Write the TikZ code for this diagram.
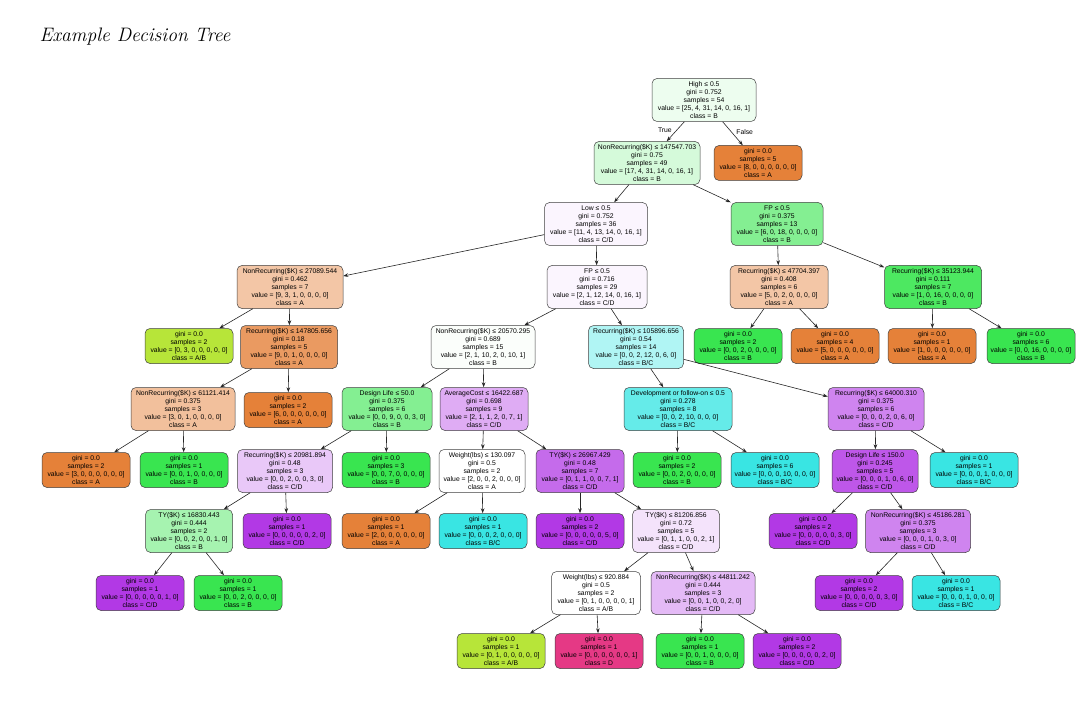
\documentclass[tikz,border=0pt]{standalone}
\usepackage{fontspec}
\usetikzlibrary{arrows.meta}
\newfontfamily\nodefont{Liberation Sans}
\definecolor{cA}{HTML}{E58139}
\definecolor{cAB}{HTML}{B7E539}
\definecolor{cB}{HTML}{39E550}
\definecolor{cBC}{HTML}{39E5E3}
\definecolor{cCD}{HTML}{B239E5}
\definecolor{cD}{HTML}{E53985}
\newcommand\dtnode[5]{#1\\gini = #2\\samples = #3\\value = [#4]\\class = #5}
\newcommand\dtleaf[4]{gini = #1\\samples = #2\\value = [#3]\\class = #4}
\begin{document}
\begin{tikzpicture}[x=1pt,y=-1pt,
  box/.style={draw=black!75, line width=0.5pt, rounded corners=5pt, align=center,
    font=\nodefont\fontsize{6.8}{7.9}\selectfont, inner sep=1pt, text=black},
  inode/.style={box, minimum height=43pt},
  leaf/.style={box, minimum width=88pt, minimum height=35pt},
  edge/.style={draw=black!85, line width=0.6pt, -{Stealth[length=5pt,width=3.6pt]}},
  elab/.style={font=\nodefont\fontsize{6.8}{7.9}\selectfont}]
\useasboundingbox (0,0) rectangle (1092,727);
\node[anchor=west, font=\fontsize{19.5}{22}\selectfont\itshape] (title) at (36,37) {Example Decision Tree};

% level 0-1
\node[inode, minimum width=104pt, fill=cB!9!white] (n0) at (704,100) {\dtnode{High ≤ 0.5}{0.752}{54}{25, 4, 31, 14, 0, 16, 1}{B}};
\node[inode, minimum width=106pt, fill=cB!21!white] (n1) at (647,163) {\dtnode{NonRecurring(\$K) ≤ 147547.703}{0.75}{49}{17, 4, 31, 14, 0, 16, 1}{B}};
\node[leaf, fill=cA] (n2) at (758,163) {\dtleaf{0.0}{5}{8, 0, 0, 0, 0, 0, 0}{A}};
% level 2
\node[inode, minimum width=103pt, fill=cCD!5!white] (n3) at (596,224) {\dtnode{Low ≤ 0.5}{0.752}{36}{11, 4, 13, 14, 0, 16, 1}{C/D}};
\node[inode, minimum width=92pt, fill=cB!62!white] (n4) at (777,224) {\dtnode{FP ≤ 0.5}{0.375}{13}{6, 0, 18, 0, 0, 0, 0}{B}};
% level 3
\node[inode, minimum width=106pt, fill=cA!45!white] (n5) at (290,287) {\dtnode{NonRecurring(\$K) ≤ 27089.544}{0.462}{7}{9, 3, 1, 0, 0, 0, 0}{A}};
\node[inode, minimum width=100pt, fill=cCD!5!white] (n6) at (597,287) {\dtnode{FP ≤ 0.5}{0.716}{29}{2, 1, 12, 14, 0, 16, 1}{C/D}};
\node[inode, minimum width=98pt, fill=cA!45!white] (n7) at (779,287) {\dtnode{Recurring(\$K) ≤ 47704.397}{0.408}{6}{5, 0, 2, 0, 0, 0, 0}{A}};
\node[inode, minimum width=97pt, fill=cB!90!white] (n8) at (933,287) {\dtnode{Recurring(\$K) ≤ 35123.944}{0.111}{7}{1, 0, 16, 0, 0, 0, 0}{B}};
% level 4
\node[leaf, fill=cAB] (n9) at (189,346) {\dtleaf{0.0}{2}{0, 3, 0, 0, 0, 0, 0}{A/B}};
\node[inode, minimum width=97pt, fill=cA!80!white] (n10) at (289,347) {\dtnode{Recurring(\$K) ≤ 147805.656}{0.18}{5}{9, 0, 1, 0, 0, 0, 0}{A}};
\node[inode, minimum width=104pt, fill=cB!2!white] (n15) at (483,347) {\dtnode{NonRecurring(\$K) ≤ 20570.295}{0.689}{15}{2, 1, 10, 2, 0, 10, 1}{B}};
\node[inode, minimum width=95pt, fill=cBC!40!white] (n16) at (636,347) {\dtnode{Recurring(\$K) ≤ 105896.656}{0.54}{14}{0, 0, 2, 12, 0, 6, 0}{B/C}};
\node[leaf, fill=cB] (n11) at (738,346) {\dtleaf{0.0}{2}{0, 0, 2, 0, 0, 0, 0}{B}};
\node[leaf, fill=cA] (n12) at (835,346) {\dtleaf{0.0}{4}{5, 0, 0, 0, 0, 0, 0}{A}};
\node[leaf, fill=cA] (n13) at (932,346) {\dtleaf{0.0}{1}{1, 0, 0, 0, 0, 0, 0}{A}};
\node[leaf, fill=cB] (n14) at (1031,346) {\dtleaf{0.0}{6}{0, 0, 16, 0, 0, 0, 0}{B}};
% level 5
\node[inode, minimum width=104pt, fill=cA!50!white] (n17) at (183,409) {\dtnode{NonRecurring(\$K) ≤ 61121.414}{0.375}{3}{3, 0, 1, 0, 0, 0, 0}{A}};
\node[leaf, fill=cA] (n18) at (288,410) {\dtleaf{0.0}{2}{6, 0, 0, 0, 0, 0, 0}{A}};
\node[inode, minimum width=90pt, fill=cB!62!white] (n19) at (387,409) {\dtnode{Design Life ≤ 50.0}{0.375}{6}{0, 0, 9, 0, 0, 3, 0}{B}};
\node[inode, minimum width=88pt, fill=cCD!42!white] (n20) at (484,409) {\dtnode{AverageCost ≤ 16422.687}{0.698}{9}{2, 1, 1, 2, 0, 7, 1}{C/D}};
\node[inode, minimum width=108pt, fill=cBC!78!white] (n21) at (678,409) {\dtnode{Development or follow-on ≤ 0.5}{0.278}{8}{0, 0, 2, 10, 0, 0, 0}{B/C}};
\node[inode, minimum width=96pt, fill=cCD!62!white] (n22) at (876,409) {\dtnode{Recurring(\$K) ≤ 64000.310}{0.375}{6}{0, 0, 0, 2, 0, 6, 0}{C/D}};
% level 6
\node[leaf, fill=cA] (n23) at (86,470) {\dtleaf{0.0}{2}{3, 0, 0, 0, 0, 0, 0}{A}};
\node[leaf, fill=cB] (n24) at (184,470) {\dtleaf{0.0}{1}{0, 0, 1, 0, 0, 0, 0}{B}};
\node[inode, minimum width=95pt, fill=cCD!28!white] (n25) at (285,471) {\dtnode{Recurring(\$K) ≤ 20981.894}{0.48}{3}{0, 0, 2, 0, 0, 3, 0}{C/D}};
\node[leaf, fill=cB] (n26) at (386,470) {\dtleaf{0.0}{3}{0, 0, 7, 0, 0, 0, 0}{B}};
\node[inode, minimum width=86pt, fill=white] (n27) at (482,471) {\dtnode{Weight(lbs) ≤ 130.097}{0.5}{2}{2, 0, 0, 2, 0, 0, 0}{A}};
\node[inode, minimum width=88pt, fill=cCD!75!white] (n28) at (580,471) {\dtnode{TY(\$K) ≤ 26967.429}{0.48}{7}{0, 1, 1, 0, 0, 7, 1}{C/D}};
\node[leaf, fill=cB] (n29) at (677,470) {\dtleaf{0.0}{2}{0, 0, 2, 0, 0, 0, 0}{B}};
\node[leaf, fill=cBC] (n30) at (775,470) {\dtleaf{0.0}{6}{0, 0, 0, 10, 0, 0, 0}{B/C}};
\node[inode, minimum width=86pt, fill=cCD!85!white] (n31) at (875,471) {\dtnode{Design Life ≤ 150.0}{0.245}{5}{0, 0, 0, 1, 0, 6, 0}{C/D}};
\node[leaf, fill=cBC] (n32) at (974,470) {\dtleaf{0.0}{1}{0, 0, 0, 1, 0, 0, 0}{B/C}};
% level 7
\node[inode, minimum width=87pt, fill=cB!45!white] (n33) at (189,531) {\dtnode{TY(\$K) ≤ 16830.443}{0.444}{2}{0, 0, 2, 0, 0, 1, 0}{B}};
\node[leaf, fill=cCD] (n34) at (287,531) {\dtleaf{0.0}{1}{0, 0, 0, 0, 0, 2, 0}{C/D}};
\node[leaf, fill=cA] (n35) at (386,531) {\dtleaf{0.0}{1}{2, 0, 0, 0, 0, 0, 0}{A}};
\node[leaf, fill=cBC] (n36) at (483,531) {\dtleaf{0.0}{1}{0, 0, 0, 2, 0, 0, 0}{B/C}};
\node[leaf, fill=cCD] (n37) at (580,531) {\dtleaf{0.0}{2}{0, 0, 0, 0, 0, 5, 0}{C/D}};
\node[inode, minimum width=87pt, fill=cCD!14!white] (n38) at (676,531) {\dtnode{TY(\$K) ≤ 81206.856}{0.72}{5}{0, 1, 1, 0, 0, 2, 1}{C/D}};
\node[leaf, fill=cCD] (n39) at (813,531) {\dtleaf{0.0}{2}{0, 0, 0, 0, 0, 3, 0}{C/D}};
\node[inode, minimum width=105pt, fill=cCD!62!white] (n40) at (918,531) {\dtnode{NonRecurring(\$K) ≤ 45186.281}{0.375}{3}{0, 0, 0, 1, 0, 3, 0}{C/D}};
% level 8
\node[leaf, fill=cCD] (n41) at (140,593) {\dtleaf{0.0}{1}{0, 0, 0, 0, 0, 1, 0}{C/D}};
\node[leaf, fill=cB] (n42) at (238,593) {\dtleaf{0.0}{1}{0, 0, 2, 0, 0, 0, 0}{B}};
\node[inode, minimum width=89pt, fill=white] (n43) at (596,593) {\dtnode{Weight(lbs) ≤ 920.884}{0.5}{2}{0, 1, 0, 0, 0, 0, 1}{A/B}};
\node[inode, minimum width=104pt, fill=cCD!35!white] (n44) at (703,593) {\dtnode{NonRecurring(\$K) ≤ 44811.242}{0.444}{3}{0, 0, 1, 0, 0, 2, 0}{C/D}};
\node[leaf, fill=cCD] (n45) at (859,593) {\dtleaf{0.0}{2}{0, 0, 0, 0, 0, 3, 0}{C/D}};
\node[leaf, fill=cBC] (n46) at (956,593) {\dtleaf{0.0}{1}{0, 0, 0, 1, 0, 0, 0}{B/C}};
% level 9
\node[leaf, fill=cAB] (n47) at (501,651) {\dtleaf{0.0}{1}{0, 1, 0, 0, 0, 0, 0}{A/B}};
\node[leaf, fill=cD] (n48) at (599,651) {\dtleaf{0.0}{1}{0, 0, 0, 0, 0, 0, 1}{D}};
\node[leaf, fill=cB] (n49) at (700,651) {\dtleaf{0.0}{1}{0, 0, 1, 0, 0, 0, 0}{B}};
\node[leaf, fill=cCD] (n50) at (797,651) {\dtleaf{0.0}{2}{0, 0, 0, 0, 0, 2, 0}{C/D}};

% edges
\draw[edge] (n0) -- node[elab, pos=0.45, left, xshift=-1pt] {True} (n1);
\draw[edge] (n0) -- node[elab, pos=0.45, right, xshift=1pt] {False} (n2);
\foreach \p/\c in {n1/n3, n1/n4, n3/n5, n3/n6, n4/n7, n4/n8, n5/n9, n5/n10,
  n6/n15, n6/n16, n7/n11, n7/n12, n8/n13, n8/n14, n10/n17, n10/n18,
  n15/n19, n15/n20, n16/n21, n16/n22, n17/n23, n17/n24, n19/n25, n19/n26,
  n20/n27, n20/n28, n21/n29, n21/n30, n22/n31, n22/n32, n25/n33, n25/n34,
  n27/n35, n27/n36, n28/n37, n28/n38, n31/n39, n31/n40, n33/n41, n33/n42,
  n38/n43, n38/n44, n40/n45, n40/n46, n43/n47, n43/n48, n44/n49, n44/n50}
  \draw[edge] (\p) -- (\c);
\end{tikzpicture}
\end{document}
